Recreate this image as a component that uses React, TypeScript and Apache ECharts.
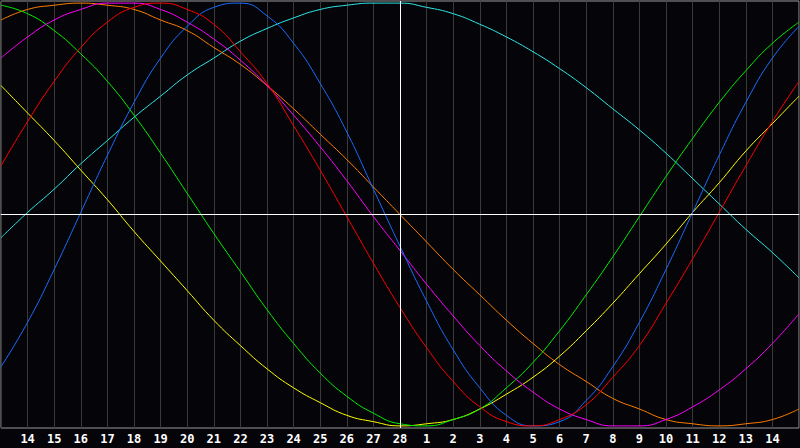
import React, { useEffect, useRef } from "react"
import * as echarts from "echarts"

// day labels: 13 (left edge) .. 28, 1 .. 15 (right edge)
const days = [
  "13", "14", "15", "16", "17", "18", "19", "20", "21", "22", "23", "24", "25", "26", "27", "28",
  "1", "2", "3", "4", "5", "6", "7", "8", "9", "10", "11", "12", "13", "14", "15",
]
const todayIndex = 15

const red = [
  0.23, 0.44, 0.63, 0.79, 0.91, 0.98, 1.0, 0.97, 0.9, 0.77, 0.62, 0.42, 0.21, -0.01, -0.23, -0.44,
  -0.63, -0.79, -0.91, -0.98, -1.0, -0.97, -0.9, -0.77, -0.62, -0.42, -0.21, 0.01, 0.23, 0.44, 0.63,
]
const blue = [
  -0.72, -0.51, -0.26, 0.01, 0.28, 0.53, 0.74, 0.89, 0.98, 1.0, 0.94, 0.81, 0.62, 0.39, 0.12, -0.15,
  -0.41, -0.64, -0.82, -0.95, -1.0, -0.98, -0.88, -0.72, -0.51, -0.26, 0.01, 0.28, 0.53, 0.74, 0.89,
]
const green = [
  0.99, 0.95, 0.87, 0.76, 0.63, 0.47, 0.29, 0.1, -0.09, -0.27, -0.45, -0.61, -0.75, -0.86, -0.94, -0.99,
  -1.0, -0.97, -0.92, -0.82, -0.7, -0.55, -0.38, -0.2, -0.01, 0.18, 0.36, 0.53, 0.68, 0.81, 0.91,
]
const yellow = [
  0.61, 0.48, 0.35, 0.21, 0.07, -0.08, -0.22, -0.36, -0.5, -0.62, -0.73, -0.82, -0.89, -0.95, -0.98, -1.0,
  -0.99, -0.97, -0.92, -0.85, -0.77, -0.67, -0.55, -0.42, -0.28, -0.14, 0.01, 0.15, 0.3, 0.43, 0.56,
]
const magenta = [
  0.74, 0.84, 0.92, 0.97, 1.0, 1.0, 0.97, 0.91, 0.83, 0.73, 0.61, 0.47, 0.32, 0.16, -0.01, -0.17,
  -0.33, -0.48, -0.62, -0.74, -0.84, -0.92, -0.97, -1.0, -1.0, -0.97, -0.91, -0.83, -0.73, -0.61, -0.47,
]
const orange = [
  0.92, 0.97, 0.99, 1.0, 0.99, 0.97, 0.92, 0.87, 0.79, 0.71, 0.61, 0.5, 0.38, 0.26, 0.13, 0.0,
  -0.13, -0.26, -0.38, -0.5, -0.61, -0.71, -0.79, -0.87, -0.92, -0.97, -0.99, -1.0, -0.99, -0.97, -0.92,
]
const cyan = [
  -0.11, 0.01, 0.12, 0.24, 0.35, 0.46, 0.56, 0.66, 0.74, 0.82, 0.88, 0.93, 0.97, 0.99, 1.0, 1.0,
  0.98, 0.95, 0.9, 0.84, 0.77, 0.69, 0.6, 0.5, 0.4, 0.29, 0.17, 0.05, -0.07, -0.18, -0.3,
]

const curves = [
  { name: "cyan", color: "#2ee8e8", data: cyan },
  { name: "orange", color: "#ff7f00", data: orange },
  { name: "yellow", color: "#ffff00", data: yellow },
  { name: "green", color: "#00ee00", data: green },
  { name: "magenta", color: "#ff00ff", data: magenta },
  { name: "blue", color: "#1a6dff", data: blue },
  { name: "red", color: "#ff0000", data: red },
]

export default function App() {
  const ref = useRef<HTMLDivElement>(null)

  useEffect(() => {
    document.body.style.margin = "0"
    document.body.style.background = "#050408"
    if (!ref.current) return
    const chart = echarts.init(ref.current, undefined, { renderer: "svg" })

    const series: any[] = curves.map((c) => ({
      name: c.name,
      type: "line",
      data: c.data,
      smooth: true,
      showSymbol: false,
      silent: true,
      lineStyle: { color: c.color, width: 1 },
    }))

    series.push({
      type: "line",
      data: [],
      silent: true,
      markLine: {
        silent: true,
        symbol: "none",
        label: { show: false },
        lineStyle: { color: "#ffffff", width: 1, type: "solid" },
        data: [{ xAxis: todayIndex }, { yAxis: 0 }],
      },
    })

    chart.setOption({
      animation: false,
      backgroundColor: "#050408",
      grid: {
        left: 1,
        right: 1,
        top: 1,
        bottom: 20,
        show: true,
        borderColor: "#9a9a9a",
        borderWidth: 1,
        backgroundColor: "transparent",
      },
      xAxis: {
        type: "category",
        data: days,
        boundaryGap: false,
        axisLine: { show: true, lineStyle: { color: "#9a9a9a" } },
        axisTick: { show: false },
        splitLine: { show: true, interval: 0, lineStyle: { color: "#3a3a3a", width: 1 } },
        axisLabel: {
          interval: (i: number) => i > 0 && i < days.length - 1,
          color: "#ffffff",
          fontFamily: "DejaVu Sans Mono",
          fontWeight: "bold",
          fontSize: 12,
          margin: 5,
        },
      },
      yAxis: {
        type: "value",
        min: -1.01,
        max: 1.01,
        show: false,
        splitLine: { show: false },
      },
      series,
    })

    return () => chart.dispose()
  }, [])

  return <div ref={ref} style={{ width: 800, height: 448 }} />
}
